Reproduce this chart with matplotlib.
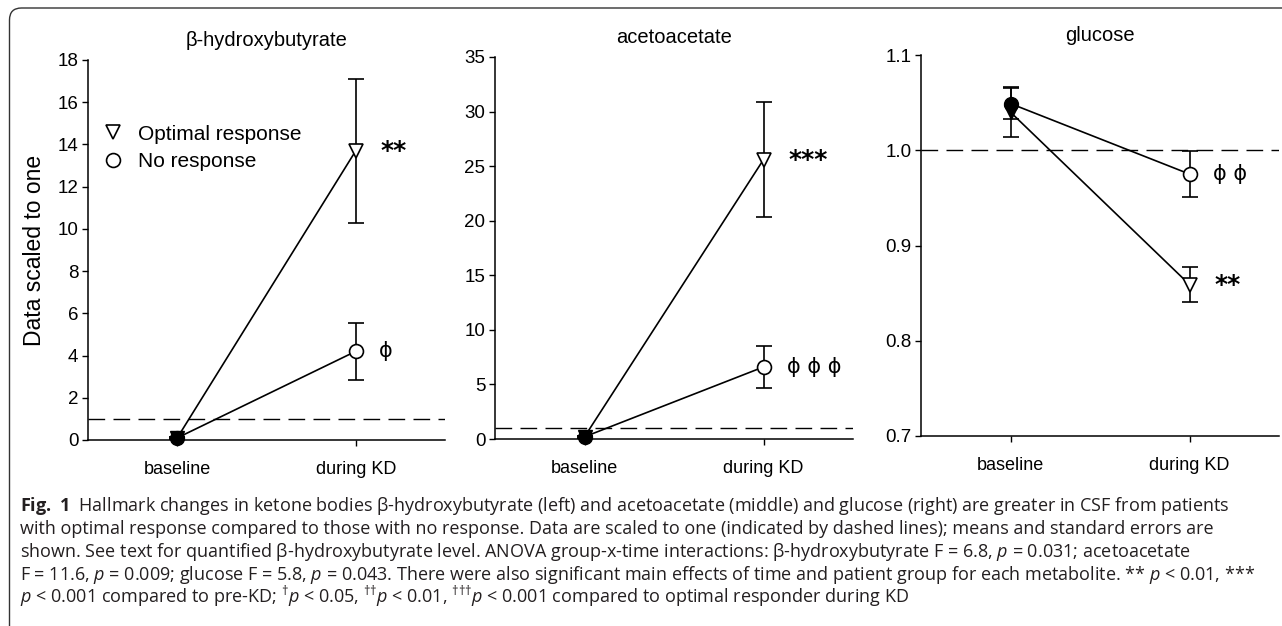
import matplotlib
matplotlib.use("Agg")
import matplotlib.pyplot as plt
from matplotlib.lines import Line2D
from matplotlib.patches import FancyBboxPatch

plt.rcParams['font.family'] = ['Liberation Sans', 'DejaVu Sans']
plt.rcParams['mathtext.fontset'] = 'custom'
plt.rcParams['mathtext.rm'] = 'Open Sans'
plt.rcParams['mathtext.it'] = 'Open Sans:italic'
plt.rcParams['mathtext.bf'] = 'Open Sans:bold'

times = ["baseline", "during KD"]
titles = ["β-hydroxybutyrate", "acetoacetate", "glucose"]

bhb_optimal = [0.1, 13.7]
bhb_optimal_err = [0.05, 3.4]
bhb_none = [0.1, 4.2]
bhb_none_err = [0.05, 1.35]

aca_optimal = [0.2, 25.6]
aca_optimal_err = [0.1, 5.3]
aca_none = [0.2, 6.6]
aca_none_err = [0.1, 1.95]

glu_optimal = [1.040, 0.859]
glu_optimal_err = [0.026, 0.018]
glu_none = [1.049, 0.975]
glu_none_err = [0.016, 0.024]

yticks = [list(range(0, 19, 2)), list(range(0, 36, 5)), [0.7, 0.8, 0.9, 1.0, 1.1]]
ylims = [(0, 18), (0, 35), (0.7, 1.1)]
# significance marks: (series, label)
marks = [[("opt", "**"), ("none", "ɸ")],
         [("opt", "***"), ("none", "ɸ ɸ ɸ")],
         [("none", "ɸ ɸ"), ("opt", "**")]]

caption = [
    r"$\mathbf{Fig.\ 1}$  Hallmark changes in ketone bodies β-hydroxybutyrate (left) and acetoacetate (middle) and glucose (right) are greater in CSF from patients",
    "with optimal response compared to those with no response. Data are scaled to one (indicated by dashed lines); means and standard errors are",
    r"shown. See text for quantified β-hydroxybutyrate level. ANOVA group-x-time interactions: β-hydroxybutyrate F = 6.8, $p$ = 0.031; acetoacetate",
    r"F = 11.6, $p$ = 0.009; glucose F = 5.8, $p$ = 0.043. There were also significant main effects of time and patient group for each metabolite. ** $p$ < 0.01, ***",
    r"$p$ < 0.001 compared to pre-KD; $^{†}p$ < 0.05, $^{††}p$ < 0.01, $^{†††}p$ < 0.001 compared to optimal responder during KD",
]

data = [(bhb_optimal, bhb_optimal_err, bhb_none, bhb_none_err),
        (aca_optimal, aca_optimal_err, aca_none, aca_none_err),
        (glu_optimal, glu_optimal_err, glu_none, glu_none_err)]

W, H = 1282, 626
fig = plt.figure(figsize=(W / 100, H / 100), dpi=100)

# axes boxes in pixels: left, top, right, bottom
boxes = [(88, 60, 445, 440), (495, 57, 853, 439), (921, 55, 1279, 436)]

x = [0, 1]
for i, (l, t, r, b) in enumerate(boxes):
    ax = fig.add_axes([l / W, 1 - b / H, (r - l) / W, (b - t) / H])
    opt, opt_err, none, none_err = data[i]

    ax.axhline(1.0, color='black', lw=1.0, dashes=(12, 6), zorder=1)
    for y, e, mk in [(opt, opt_err, 'v'), (none, none_err, 'o')]:
        ax.errorbar(x, y, yerr=e, color='black', lw=1.2, capsize=6, capthick=1.2,
                    zorder=2, clip_on=False, fmt='none')
        ax.plot(x, y, color='black', lw=1.2, zorder=3, clip_on=False)
        ax.plot(x[0], y[0], marker=mk, ms=10, color='black', mfc='black',
                mec='black', ls='none', zorder=4, clip_on=False)
        ax.plot(x[1], y[1], marker=mk, ms=10, mfc='white', mec='black',
                mew=1.2, ls='none', zorder=4, clip_on=False)

    for which, lab in marks[i]:
        yv = opt[1] if which == "opt" else none[1]
        if "*" in lab:
            ax.annotate(lab, (1, yv), xytext=(18, 0), textcoords='offset points',
                        ha='left', va='center', fontsize=18, fontweight='bold',
                        family='DejaVu Sans')
        else:
            ax.annotate(lab, (1, yv), xytext=(17, 0), textcoords='offset points',
                        ha='left', va='center', fontsize=15, family='DejaVu Sans')

    ax.set_xlim(-0.5, 1.5)
    ax.set_ylim(*ylims[i])
    ax.set_yticks(yticks[i])
    if i == 2:
        ax.set_yticklabels([f"{v:.1f}" for v in yticks[i]])
    ax.set_xticks(x)
    ax.set_xticklabels(times, fontsize=13)
    ax.tick_params(axis='y', labelsize=13.5, length=4, width=1, pad=3)
    ax.tick_params(axis='x', length=4, width=1, pad=11)
    for s in ['top', 'right']:
        ax.spines[s].set_visible(False)
    for s in ['left', 'bottom']:
        ax.spines[s].set_linewidth(1.1)
    ax.set_title(titles[i], fontsize=14.5, pad=10)

    if i == 0:
        ax.set_ylabel("Data scaled to one", fontsize=16.5, labelpad=8)
        handles = [Line2D([], [], marker='v', ms=10, mfc='white', mec='black', mew=1.2, ls='none'),
                   Line2D([], [], marker='o', ms=10, mfc='white', mec='black', mew=1.2, ls='none')]
        ax.legend(handles, ["Optimal response", "No response"], loc='upper left',
                  bbox_to_anchor=(0.035, 0.83), frameon=False, fontsize=15,
                  handlelength=1.2, handletextpad=0.6, labelspacing=0.4,
                  borderpad=0, borderaxespad=0)

# outer frame
frame = FancyBboxPatch((0.095, -1.0), 14.0, 7.18, boxstyle="round,pad=0,rounding_size=0.12",
                       transform=fig.dpi_scale_trans, facecolor='none',
                       edgecolor='#333333', lw=1.0)
fig.add_artist(frame)

for k, line in enumerate(caption):
    fig.text(20 / W, 1 - (511 + 23 * k) / H, line, family='Open Sans',
             fontsize=12.95, ha='left', va='baseline', color='#231f20')

fig.savefig("out.png", dpi=100)
